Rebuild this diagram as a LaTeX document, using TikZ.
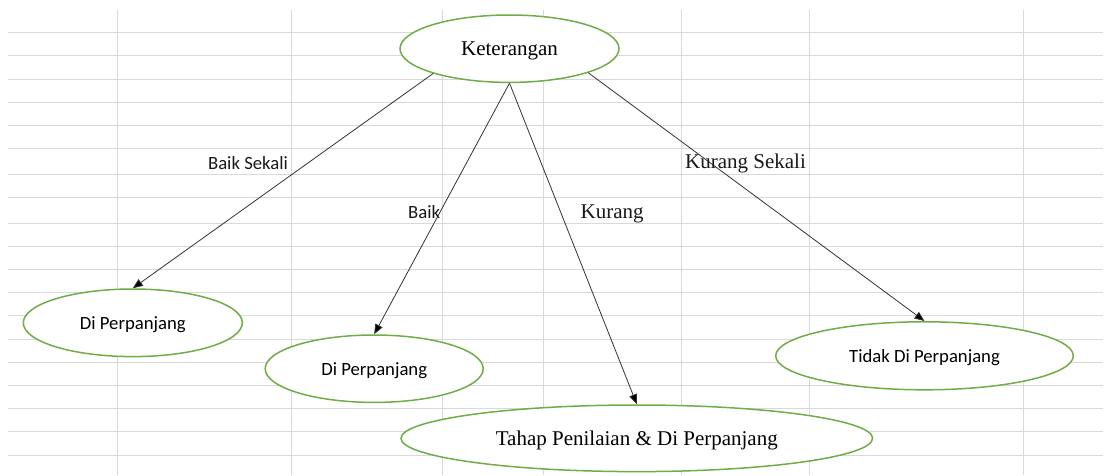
\documentclass[tikz,border=0pt]{standalone}
\usepackage{fontspec}
\setmainfont{Liberation Serif}
\newfontfamily\calib{Carlito}
\usetikzlibrary{shapes.geometric,arrows.meta}
\definecolor{gridgray}{HTML}{D9D9D9}
\definecolor{officegreen}{HTML}{70AD47}
\tikzset{
  gridline/.style={draw=gridgray,line width=0.9pt},
  oval/.style={ellipse,draw=officegreen,line width=1.5pt,fill=white,inner sep=0pt,
    text height=14pt,text depth=0pt},
  serif/.style={font=\fontsize{21}{24}\selectfont},
  sans/.style={font=\calib\fontsize{18.7}{22}\selectfont},
  conn/.style={draw=black!80,line width=0.8pt,-{Triangle[length=10pt,width=8pt,fill=black]}},
  lbl/.style={anchor=base,inner sep=0pt,text=black!90}
}
\begin{document}
\begin{tikzpicture}[x=1pt,y=-1pt]
\useasboundingbox[fill=white] (0,0) rectangle (1105,475);
% grid
\foreach \yy in {32.5,55.7,79,102.3,125.7,148.3,174,197.3,223.3,246,269.3,292.3,315.7,339,362.3,385,408.3,431.7,455}
  \draw[gridline] (8,\yy) -- (1103,\yy);
\foreach \xx in {117.5,291.5,442.7,543.3,681.3,809.3,1023.3}
  \draw[gridline] (\xx,10) -- (\xx,475);
% nodes
\node[oval,serif,minimum width=219pt,minimum height=67.4pt] (ket) at (509.5,48.7) {Keterangan};
\node[oval,sans,minimum width=219pt,minimum height=67.6pt] (dp1) at (132.8,322.8) {Di Perpanjang};
\node[oval,sans,minimum width=218pt,minimum height=67.4pt] (dp2) at (374.2,368.7) {Di Perpanjang};
\node[oval,serif,minimum width=471.6pt,minimum height=66.6pt] (thp) at (636.8,438.3) {Tahap Penilaian \& Di Perpanjang};
\node[oval,sans,minimum width=297.6pt,minimum height=68pt] (tdk) at (924.5,355.8) {Tidak Di Perpanjang};
% connectors
\draw[conn] (ket.-162.5) -- (dp1.north);
\draw[conn] (ket.south) -- (dp2.north);
\draw[conn] (ket.south) -- (thp.north);
\draw[conn] (ket.-17.3) -- (tdk.north);
% labels
\node[lbl,sans] (lbs) at (248,169) {Baik Sekali};
\node[lbl,sans] (lb) at (424.2,218.3) {Baik};
\node[lbl,serif] (lk) at (612.2,218.3) {Kurang};
\node[lbl,serif] (lks) at (745.5,168.3) {Kurang Sekali};
\end{tikzpicture}
\end{document}
